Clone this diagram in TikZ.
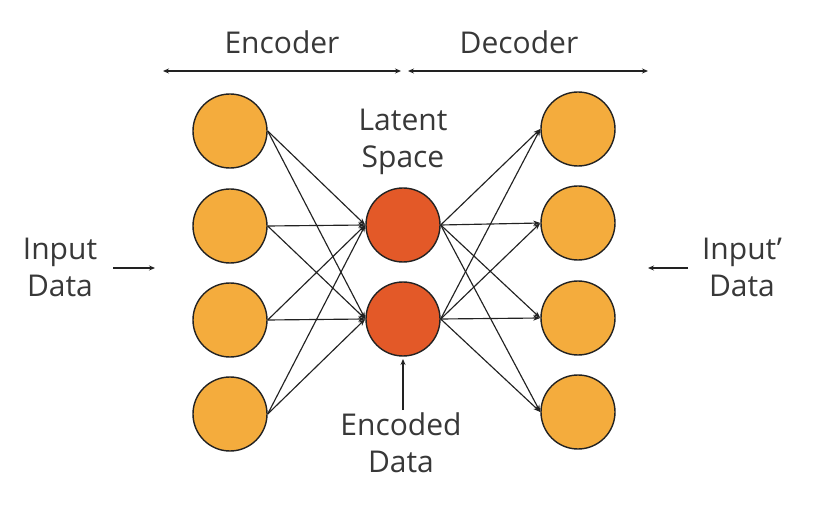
\documentclass[tikz,border=0pt]{standalone}
\usepackage{fontspec}
\setmainfont{Open Sans}
\usetikzlibrary{arrows.meta}
\definecolor{unitorange}{HTML}{F4AC3D}
\definecolor{latentred}{HTML}{E35928}
\definecolor{inkgray}{HTML}{222222}
\tikzset{
	unit/.style={draw=inkgray,circle,line width=1.4pt,fill=unitorange,minimum size=74pt,inner sep=0pt},
	latent/.style={unit,fill=latentred},
	label/.style={align=center,text=inkgray!90,font=\fontsize{30}{37}\selectfont},
	link/.style={draw=inkgray,line width=1.15pt,-{Stealth[length=7pt,width=5pt,inset=2pt]}},
	span/.style={draw=inkgray,line width=1.6pt,{Stealth[length=6pt,width=5pt,inset=2pt]}-{Stealth[length=6pt,width=5pt,inset=2pt]}},
	pointer/.style={draw=inkgray,line width=1.6pt,-{Stealth[length=6pt,width=5pt,inset=2pt]}}
}

\begin{document}
\begin{tikzpicture}[x=1pt,y=-1pt]
	\useasboundingbox (0,0) rectangle (839,513);
	% layers
	\node[unit] (in1) at (230,131) {};
	\node[unit] (in2) at (230,226) {};
	\node[unit] (in3) at (230,320) {};
	\node[unit] (in4) at (230,414) {};
	\node[latent] (lat1) at (403,225) {};
	\node[latent] (lat2) at (403,319) {};
	\node[unit] (out1) at (578,129) {};
	\node[unit] (out2) at (578,223) {};
	\node[unit] (out3) at (578,318) {};
	\node[unit] (out4) at (578,412) {};
	% connections
	\foreach \i in {1,...,4} {
		\foreach \j in {1,2} {
			\draw[link] (in\i.east) -- (lat\j.west);
			\draw[link] (lat\j.east) -- (out\i.west);
		}
	}
	% labels
	\node[label] (enc) at (282,42) {Encoder};
	\node[label] (dec) at (519,42) {Decoder};
	\coordinate (encl) at (163,71);
	\coordinate (encr) at (401,71);
	\coordinate (decl) at (408,71);
	\coordinate (decr) at (648,71);
	\draw[span] (encl) -- (encr);
	\draw[span] (decl) -- (decr);
	\node[label] (space) at (403,142) {Latent\\Space};
	\node[label] (indata) at (60,267) {Input\\Data};
	\node[label] (outdata) at (742,267) {Input’\\Data};
	\node[label] (coded) at (401,443) {Encoded\\Data};
	\coordinate (inarr) at (113,268);
	\coordinate (inend) at (155,268);
	\coordinate (outarr) at (688,268);
	\coordinate (outend) at (648,268);
	\draw[pointer] (inarr) -- (inend);
	\draw[pointer] (outarr) -- (outend);
	\coordinate (codedtail) at (403,410);
	\coordinate (codedtip) at (403,359);
	\draw[pointer] (codedtail) -- (codedtip);
\end{tikzpicture}
\end{document}
